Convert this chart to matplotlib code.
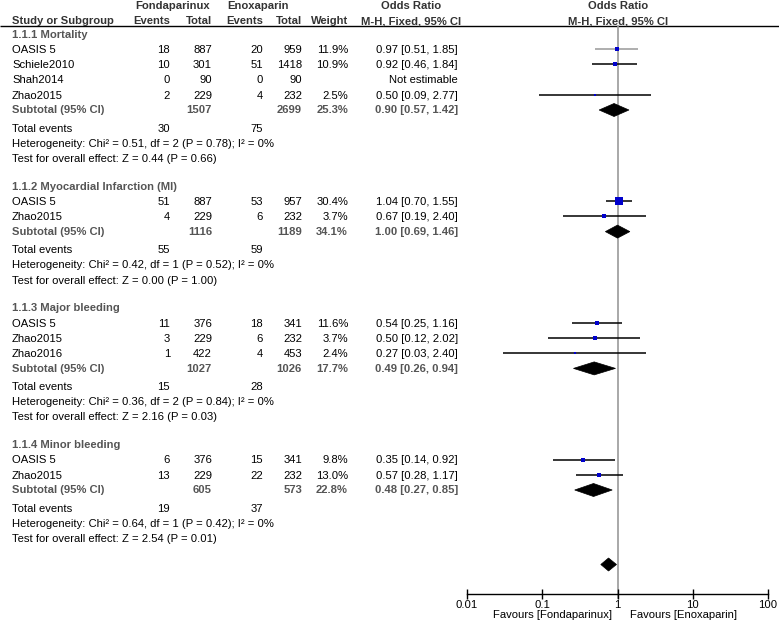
import matplotlib
matplotlib.use("Agg")
import matplotlib.pyplot as plt
from matplotlib.patches import Polygon
from matplotlib.ticker import NullLocator

plt.rcParams['font.family'] = ['Liberation Sans', 'DejaVu Sans']

# ---------------- data ----------------
group_titles = ["1.1.1 Mortality", "1.1.2 Myocardial Infarction (MI)",
                "1.1.3 Major bleeding", "1.1.4 Minor bleeding"]

g1_studies = ["OASIS 5", "Schiele2010", "Shah2014", "Zhao2015"]
g1_ev1 = [18, 10, 0, 2]
g1_n1 = [887, 301, 90, 229]
g1_ev2 = [20, 51, 0, 4]
g1_n2 = [959, 1418, 90, 232]
g1_w = [11.9, 10.9, None, 2.5]
g1_or = [0.97, 0.92, None, 0.50]
g1_lo = [0.51, 0.46, None, 0.09]
g1_hi = [1.85, 1.84, None, 2.77]

g2_studies = ["OASIS 5", "Zhao2015"]
g2_ev1 = [51, 4]
g2_n1 = [887, 229]
g2_ev2 = [53, 6]
g2_n2 = [957, 232]
g2_w = [30.4, 3.7]
g2_or = [1.04, 0.67]
g2_lo = [0.70, 0.19]
g2_hi = [1.55, 2.40]

g3_studies = ["OASIS 5", "Zhao2015", "Zhao2016"]
g3_ev1 = [11, 3, 1]
g3_n1 = [376, 229, 422]
g3_ev2 = [18, 6, 4]
g3_n2 = [341, 232, 453]
g3_w = [11.6, 3.7, 2.4]
g3_or = [0.54, 0.50, 0.27]
g3_lo = [0.25, 0.12, 0.03]
g3_hi = [1.16, 2.02, 2.40]

g4_studies = ["OASIS 5", "Zhao2015"]
g4_ev1 = [6, 13]
g4_n1 = [376, 229]
g4_ev2 = [15, 22]
g4_n2 = [341, 232]
g4_w = [9.8, 13.0]
g4_or = [0.35, 0.57]
g4_lo = [0.14, 0.28]
g4_hi = [0.92, 1.17]

sub_n1 = [1507, 1116, 1027, 605]
sub_n2 = [2699, 1189, 1026, 573]
sub_w = [25.3, 34.1, 17.7, 22.8]
sub_or = [0.90, 1.00, 0.49, 0.48]
sub_lo = [0.57, 0.69, 0.26, 0.27]
sub_hi = [1.42, 1.46, 0.94, 0.85]

tot_ev1 = [30, 55, 15, 19]
tot_ev2 = [75, 59, 28, 37]
het_chi = [0.51, 0.42, 0.36, 0.64]
het_df = [2, 1, 2, 1]
het_p = [0.78, 0.52, 0.84, 0.42]
het_i2 = [0, 0, 0, 0]
test_z = [0.44, 0.00, 2.16, 2.54]
test_p = [0.66, 1.00, 0.03, 0.01]

overall_or = 0.76
overall_lo = 0.60
overall_hi = 0.97

axis_ticks = [0.01, 0.1, 1, 10, 100]
axis_ticklabels = ["0.01", "0.1", "1", "10", "100"]

groups = [
    (g1_studies, g1_ev1, g1_n1, g1_ev2, g1_n2, g1_w, g1_or, g1_lo, g1_hi),
    (g2_studies, g2_ev1, g2_n1, g2_ev2, g2_n2, g2_w, g2_or, g2_lo, g2_hi),
    (g3_studies, g3_ev1, g3_n1, g3_ev2, g3_n2, g3_w, g3_or, g3_lo, g3_hi),
    (g4_studies, g4_ev1, g4_n1, g4_ev2, g4_n2, g4_w, g4_or, g4_lo, g4_hi),
]

# ---------------- layout ----------------
W, H = 779, 624
fig = plt.figure(figsize=(W / 100, H / 100), dpi=100)
ax = fig.add_axes([0, 0, 1, 1])
ax.set_xlim(0, W)
ax.set_ylim(H, 0)
ax.axis('off')

X0, X1 = 467, 768
fx = fig.add_axes([X0 / W, 0, (X1 - X0) / W, 1])
fx.set_xscale('log')
fx.set_xlim(0.01, 100)
fx.set_ylim(H, 0)
fx.patch.set_alpha(0)
for s in ['top', 'left', 'right']:
    fx.spines[s].set_visible(False)
AXIS_Y = 594
fx.spines['bottom'].set_position(('data', AXIS_Y))
fx.spines['bottom'].set_linewidth(1.0)
fx.set_yticks([])
fx.set_xticks(axis_ticks)
fx.set_xticklabels(axis_ticklabels)
fx.xaxis.set_minor_locator(NullLocator())
fx.tick_params(axis='x', direction='inout', length=7, width=1.0, labelsize=8.1, pad=0.5)

FS = 8.1
HEAD_C = '#333333'
GRAY_C = '#555555'
C_EV1, C_N1, C_EV2, C_N2, C_W, C_OR = 170, 212, 263, 302, 348, 458
LX = 12
BL = 3.8  # baseline offset from row centre


def txt(x, yc, s, ha='left', bold=False, color='black'):
    ax.text(x, yc + BL, s, ha=ha, va='baseline', fontsize=FS,
            fontweight='bold' if bold else 'normal', color=color)


# header
txt(172.5, 5, "Fondaparinux", ha='center', bold=True, color=HEAD_C)
txt(258, 5, "Enoxaparin", ha='center', bold=True, color=HEAD_C)
txt(411, 5, "Odds Ratio", ha='center', bold=True, color=HEAD_C)
txt(618, 5, "Odds Ratio", ha='center', bold=True, color=HEAD_C)
hy = 20.5
txt(LX, hy, "Study or Subgroup", bold=True, color=HEAD_C)
txt(C_EV1, hy, "Events", ha='right', bold=True, color=HEAD_C)
txt(C_N1, hy, "Total", ha='right', bold=True, color=HEAD_C)
txt(C_EV2, hy, "Events", ha='right', bold=True, color=HEAD_C)
txt(C_N2, hy, "Total", ha='right', bold=True, color=HEAD_C)
txt(C_W, hy, "Weight", ha='right', bold=True, color=HEAD_C)
txt(411, hy, "M-H, Fixed, 95% CI", ha='center', bold=True, color=HEAD_C)
txt(618, hy, "M-H, Fixed, 95% CI", ha='center', bold=True, color=HEAD_C)
ax.plot([0, W], [26, 26], color='black', lw=1.0, solid_capstyle='butt')

# vertical line of no effect
fx.plot([1, 1], [26, 598], color='#999999', lw=1.2, zorder=1)

STEP = 15.2
Y0 = 34


def rowy(i):
    return Y0 + STEP * i


def diamond(yc, o, lo, hi, h=6.5):
    fx.add_patch(Polygon([(lo, yc), (o, yc - h), (hi, yc), (o, yc + h)],
                         closed=True, facecolor='black', edgecolor='black',
                         lw=0.5, zorder=3))


row = 0
for gi, g in enumerate(groups):
    studies, ev1, n1, ev2, n2, w, orr, lo, hi = g
    txt(LX, rowy(row), group_titles[gi], bold=True, color=GRAY_C)
    row += 1
    for k in range(len(studies)):
        y = rowy(row)
        txt(LX, y, studies[k])
        txt(C_EV1, y, str(ev1[k]), ha='right')
        txt(C_N1, y, str(n1[k]), ha='right')
        txt(C_EV2, y, str(ev2[k]), ha='right')
        txt(C_N2, y, str(n2[k]), ha='right')
        if w[k] is None:
            txt(C_OR, y, "Not estimable", ha='right')
        else:
            txt(C_W, y, f"{w[k]:.1f}%", ha='right')
            txt(C_OR, y, f"{orr[k]:.2f} [{lo[k]:.2f}, {hi[k]:.2f}]", ha='right')
            lc = '#999999' if (gi == 0 and k == 0) else 'black'
            fx.plot([lo[k], hi[k]], [y, y], color=lc, lw=1.1, zorder=2,
                    solid_capstyle='butt')
            side_px = 1.0 + 1.1 * w[k] ** 0.5
            fx.scatter([orr[k]], [y], marker='s', s=(side_px * 0.72) ** 2,
                       color='#0000CC', linewidths=0, zorder=4)
        row += 1
    y = rowy(row)
    ys = y - 0.5
    txt(LX, ys, "Subtotal (95% CI)", bold=True, color=GRAY_C)
    txt(C_N1, ys, str(sub_n1[gi]), ha='right', bold=True, color=GRAY_C)
    txt(C_N2, ys, str(sub_n2[gi]), ha='right', bold=True, color=GRAY_C)
    txt(C_W, ys, f"{sub_w[gi]:.1f}%", ha='right', bold=True, color=GRAY_C)
    txt(C_OR, ys, f"{sub_or[gi]:.2f} [{sub_lo[gi]:.2f}, {sub_hi[gi]:.2f}]",
        ha='right', bold=True, color=GRAY_C)
    diamond(y, sub_or[gi], sub_lo[gi], sub_hi[gi])
    row += 1
    y = rowy(row) + 2.5
    txt(LX, y, "Total events")
    txt(C_EV1, y, str(tot_ev1[gi]), ha='right')
    txt(C_EV2, y, str(tot_ev2[gi]), ha='right')
    row += 1
    y = rowy(row) + 2.5
    txt(LX, y, f"Heterogeneity: Chi\u00b2 = {het_chi[gi]:.2f}, df = {het_df[gi]} "
               f"(P = {het_p[gi]:.2f}); I\u00b2 = {het_i2[gi]}%")
    row += 1
    y = rowy(row) + 2.5
    txt(LX, y, f"Test for overall effect: Z = {test_z[gi]:.2f} (P = {test_p[gi]:.2f})")
    row += 2

# overall diamond (no label)
diamond(rowy(row) - 1.5, overall_or, overall_lo, overall_hi)

# favours labels
txt(612, 614, "Favours [Fondaparinux]", ha='right')
txt(630, 614, "Favours [Enoxaparin]", ha='left')

fig.savefig("out.png", dpi=100)
